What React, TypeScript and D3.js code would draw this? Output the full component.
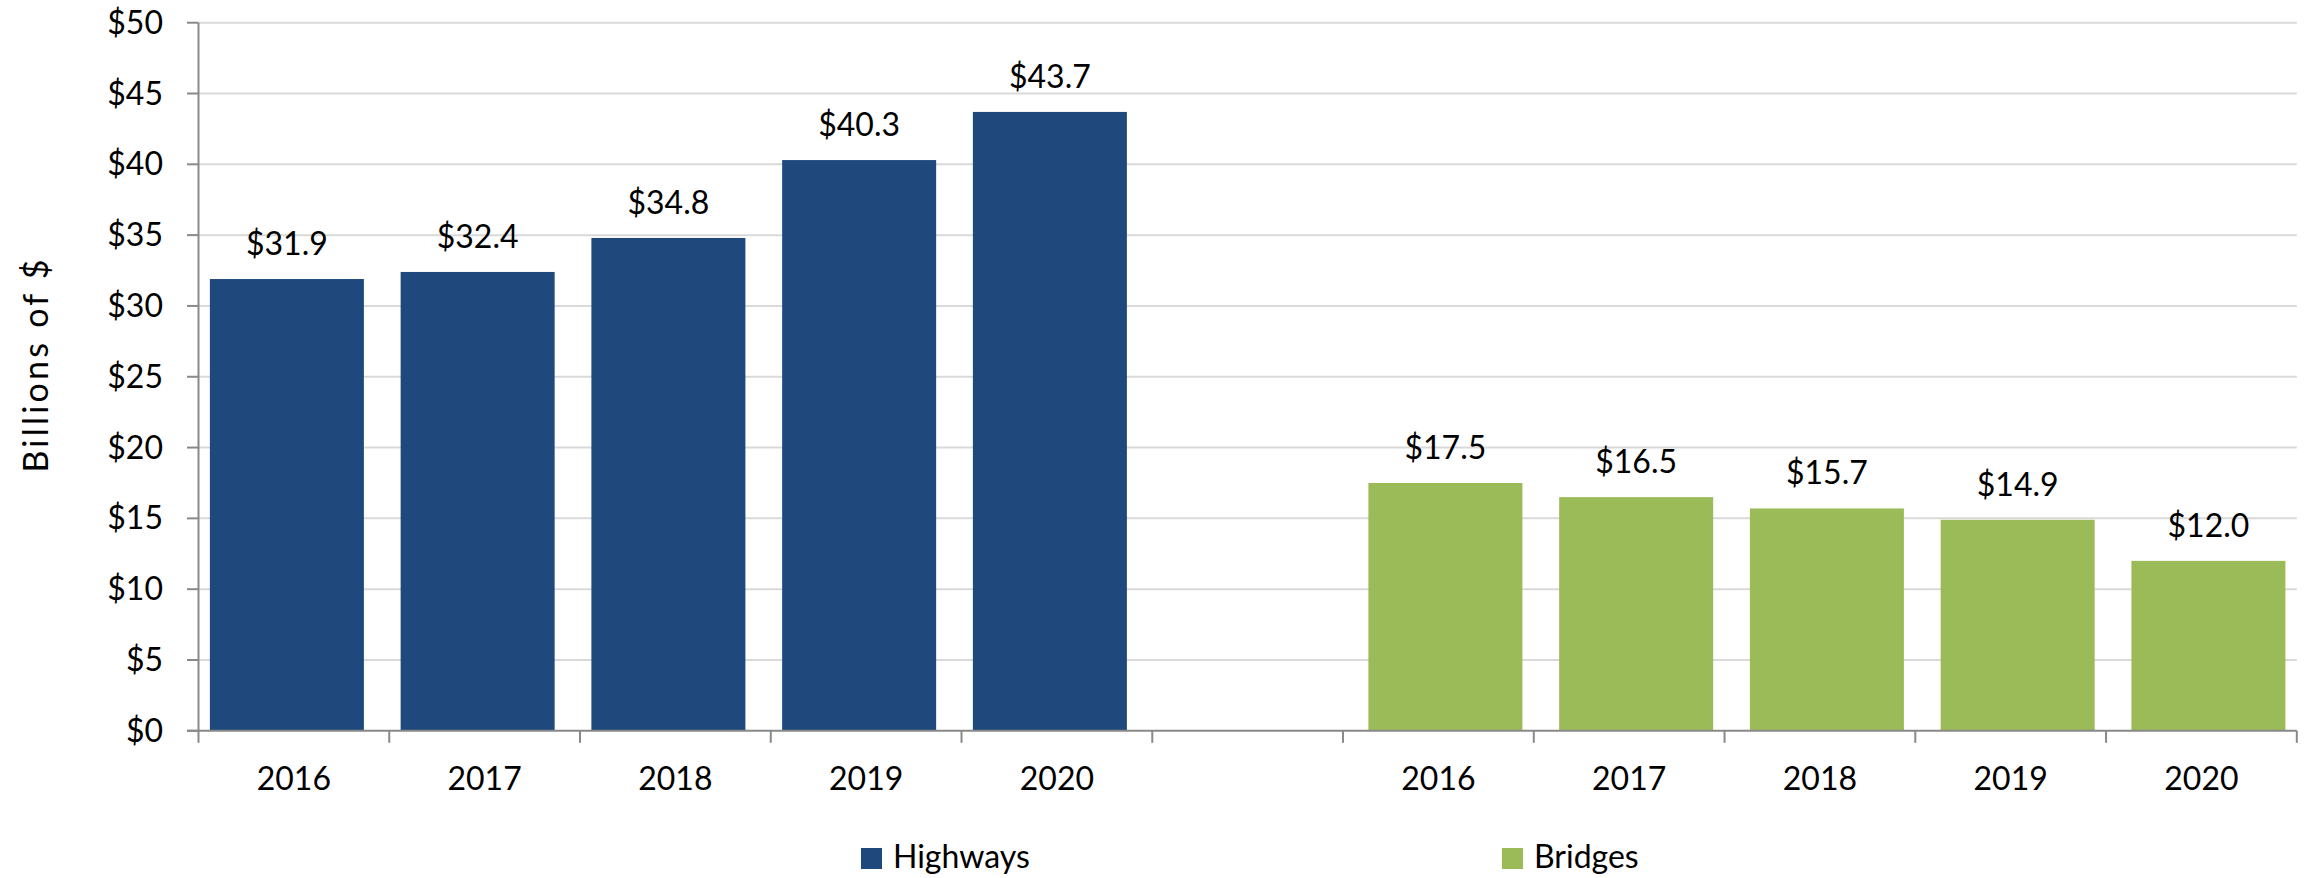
import React from "react";
import * as d3 from "d3";

const years = ["2016", "2017", "2018", "2019", "2020"];
const highways = [31.9, 32.4, 34.8, 40.3, 43.7];
const bridges = [17.5, 16.5, 15.7, 14.9, 12.0];
const yTicks = [0, 5, 10, 15, 20, 25, 30, 35, 40, 45, 50];
const seriesNames = ["Highways", "Bridges"];
const seriesColors = ["#1f497d", "#9bbb59"];

const W = 2313;
const H = 878;
const FONT = "Lato, 'Open Sans', sans-serif";

type Slot = { key: string; label: string; series: number; value: number | null };

const slots: Slot[] = [
  ...years.map((yr, i) => ({ key: "h" + yr, label: yr, series: 0, value: highways[i] })),
  { key: "gap", label: "", series: -1, value: null },
  ...years.map((yr, i) => ({ key: "b" + yr, label: yr, series: 1, value: bridges[i] })),
];

export default function App() {
  const x = d3
    .scaleBand<string>()
    .domain(slots.map((s) => s.key))
    .range([198.5, 2296.8])
    .padding(0);
  const y = d3.scaleLinear().domain([0, 50]).range([730.8, 22.7]);
  const bw = x.bandwidth();
  const barW = 154;
  const shift = 7;
  const x0 = 198.5;
  const x1 = 2296.8;
  const y0 = y(0);

  const boundaries = slots.map((s) => x(s.key) as number).concat([x1]);

  return (
    <svg
      width={W}
      height={H}
      style={{ position: "absolute", left: 0, top: 0, background: "#fff" }}
      fontFamily={FONT}
    >
      {/* gridlines */}
      {yTicks
        .filter((t) => t > 0)
        .map((t) => (
          <line key={"g" + t} x1={x0} x2={x1} y1={y(t)} y2={y(t)} stroke="#d9d9d9" strokeWidth={2} />
        ))}
      {/* bars */}
      {slots
        .filter((s) => s.value !== null)
        .map((s) => {
          const cx = (x(s.key) as number) + bw / 2 + (s.series === 0 ? -shift : shift);
          const v = s.value as number;
          return (
            <g key={"bar" + s.key}>
              <rect x={cx - barW / 2} y={y(v)} width={barW} height={y0 - y(v)} fill={seriesColors[s.series]} />
              <text x={cx} y={y(v) - 24} textAnchor="middle" fontSize={32} fill="#000">
                {"$" + v.toFixed(1)}
              </text>
            </g>
          );
        })}
      {/* y axis */}
      <line x1={x0} x2={x0} y1={y(50)} y2={y0 + 1} stroke="#898989" strokeWidth={2} />
      {yTicks.map((t) => (
        <g key={"yt" + t}>
          <line x1={187} x2={x0} y1={y(t)} y2={y(t)} stroke="#898989" strokeWidth={2} />
          <text x={163} y={y(t) + 11} textAnchor="end" fontSize={32} fill="#000">
            {"$" + t}
          </text>
        </g>
      ))}
      {/* x axis */}
      <line x1={187} x2={x1} y1={y0} y2={y0} stroke="#898989" strokeWidth={2} />
      {boundaries.map((b, i) => (
        <line key={"xt" + i} x1={b} x2={b} y1={y0} y2={y0 + 12} stroke="#898989" strokeWidth={2} />
      ))}
      {slots
        .filter((s) => s.label)
        .map((s) => (
          <text
            key={"xl" + s.key}
            x={(x(s.key) as number) + bw / 2}
            y={790}
            textAnchor="middle"
            fontSize={32}
            fill="#000"
          >
            {s.label}
          </text>
        ))}
      {/* y title */}
      <text
        transform="translate(48,366) rotate(-90)"
        textAnchor="middle"
        fontSize={34}
        fill="#000"
        textLength={213}
        lengthAdjust="spacing"
      >
        Billions of $
      </text>
      {/* legend */}
      {seriesNames.map((n, i) => {
        const lx = i === 0 ? 861 : 1502;
        return (
          <g key={"lg" + n}>
            <rect x={lx} y={848} width={21} height={21} fill={seriesColors[i]} />
            <text x={lx + 32} y={868} fontSize={32} fill="#000">
              {n}
            </text>
          </g>
        );
      })}
    </svg>
  );
}
